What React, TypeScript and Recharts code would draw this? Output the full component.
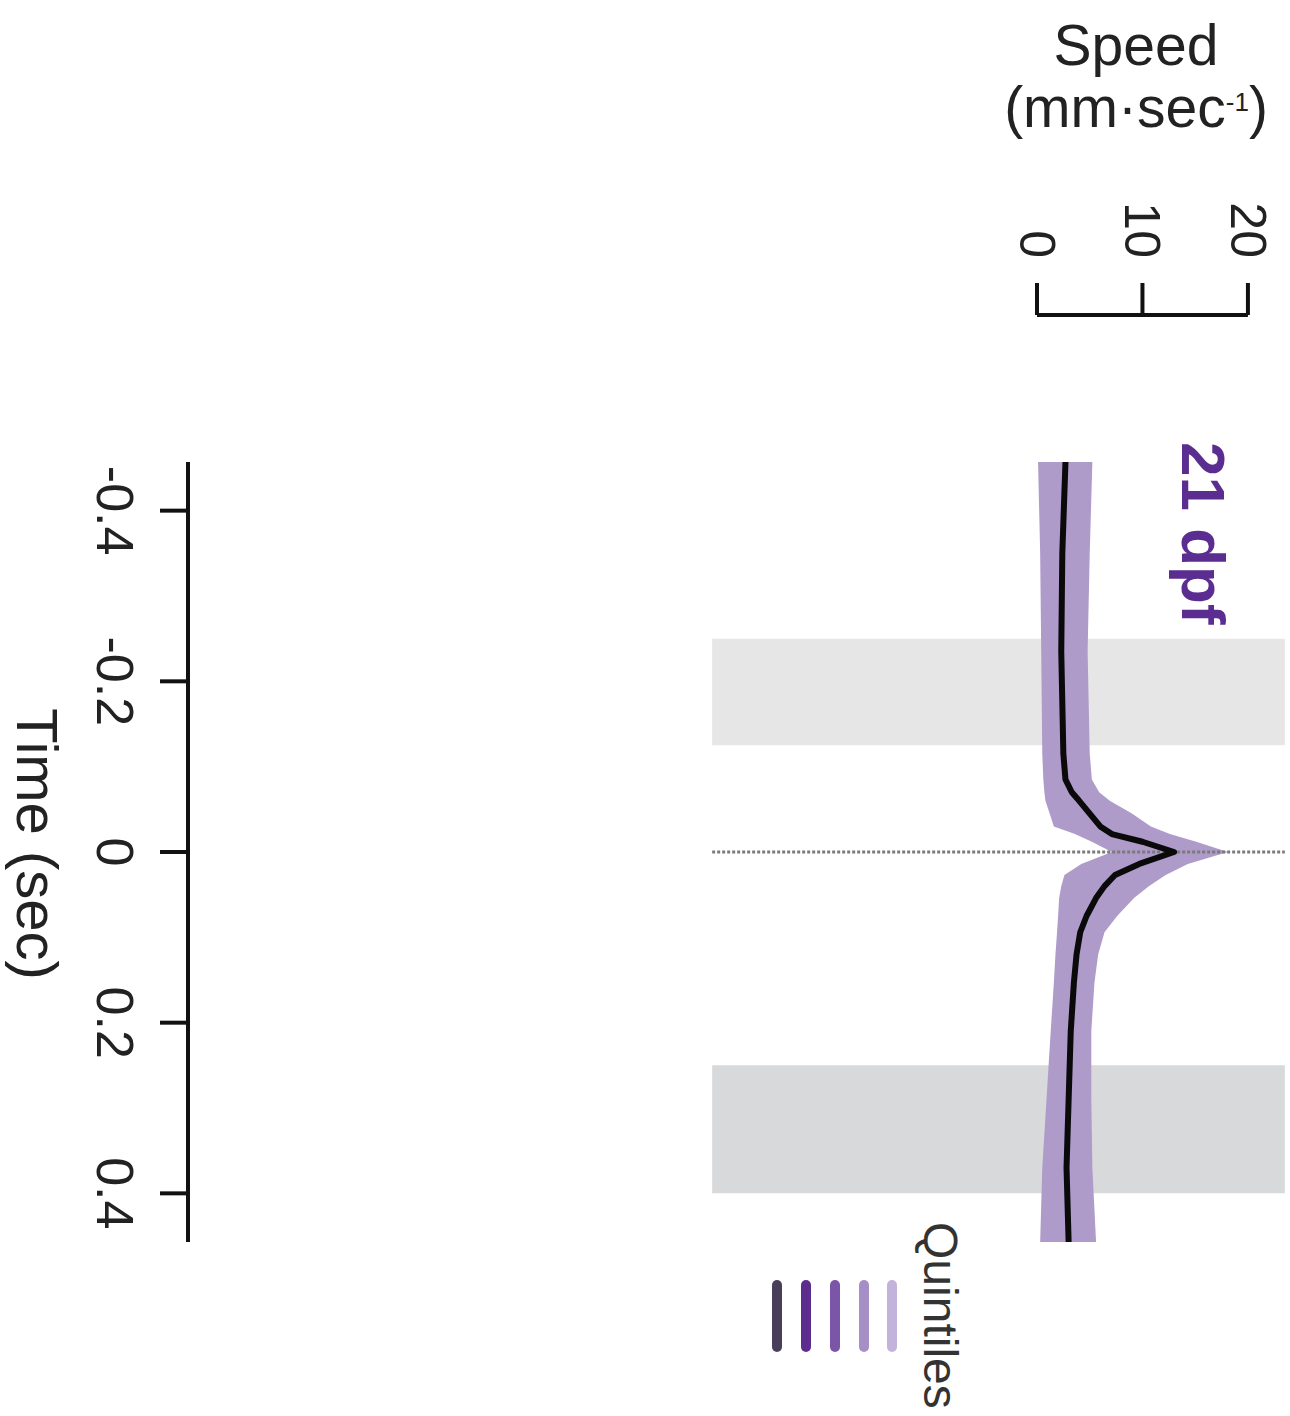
import React from 'react';
import { ComposedChart, Area, Line, XAxis, YAxis, ReferenceArea, ReferenceLine } from 'recharts';

// ---- data ----
const timeSec = [-0.457, -0.35, -0.235, -0.115, -0.085, -0.07, -0.06, -0.045, -0.03, -0.021, -0.012, 0, 0.014, 0.027, 0.04, 0.054, 0.075, 0.094, 0.12, 0.153, 0.21, 0.29, 0.37, 0.457];
const meanSpeed = [2.7, 2.4, 2.3, 2.5, 2.7, 3.3, 4.0, 5.0, 6.0, 7.1, 10.0, 13.0, 9.7, 7.4, 6.4, 5.6, 4.7, 4.1, 3.75, 3.5, 3.2, 3.0, 2.8, 3.0];
const lowerSpeed = [0.1, 0.3, 0.4, 0.5, 0.6, 0.7, 0.8, 1.2, 1.6, 3.6, 5.2, 7.1, 4.2, 2.6, 2.3, 2.1, 2.0, 1.9, 1.75, 1.6, 1.3, 0.9, 0.5, 0.3];
const upperSpeed = [5.25, 5.0, 4.8, 5.0, 5.2, 5.9, 6.9, 9.0, 10.8, 12.6, 15.1, 18.1, 14.3, 12.2, 10.6, 9.2, 7.6, 6.4, 5.8, 5.45, 5.15, 5.15, 5.25, 5.6];

const timeTicks = [-0.4, -0.2, 0, 0.2, 0.4];
const speedTicks = [0, 10, 20];
const timeDomain = [-0.457, 0.457];
const speedDomain = [-80.5, 23.8];

const stimBands = [
  { from: -0.25, to: -0.125, fill: '#e6e6e6' },
  { from: 0.25, to: 0.4, fill: '#d8d9db' },
];
const bandSpeedRange = [-30.8, 23.5];
const speedBarY = -0.6293; // time-coordinate where the speed scale bar sits

const quintileColors = ['#4a3f5a', '#5c2d8e', '#7b55a8', '#a58fc6', '#c2b2dc'];

const data = timeSec.map((t, i) => ({
  t,
  mean: meanSpeed[i],
  band: [lowerSpeed[i], upperSpeed[i]],
}));

const FONT = '"Liberation Sans", Arial, Helvetica, sans-serif';

const TimeTick = (props: any) => {
  const { x, y, payload } = props;
  return (
    <text
      x={x}
      y={y}
      transform={`rotate(90 ${x} ${y})`}
      textAnchor="middle"
      dominantBaseline="central"
      fontSize={52}
      fontFamily={FONT}
      fill="#222"
    >
      {String(payload.value)}
    </text>
  );
};

const SpeedTick = (props: any) => {
  const { x, y, payload } = props;
  return (
    <text
      x={x}
      y={y}
      transform={`rotate(90 ${x} ${y})`}
      textAnchor="end"
      dominantBaseline="central"
      fontSize={50}
      fontFamily={FONT}
      fill="#222"
    >
      {String(payload.value)}
    </text>
  );
};

export default function App() {
  const legendX = [777, 806, 835, 864, 892];
  return (
    <div style={{ position: 'absolute', left: 0, top: 0, width: 1290, height: 1416, background: '#fff' }}>
      <ComposedChart
        layout="vertical"
        width={1290}
        height={1416}
        data={data}
        margin={{ top: 205, right: 2, bottom: 174, left: 18 }}
      >
        <XAxis
          xAxisId="gap"
          orientation="top"
          type="number"
          domain={speedDomain}
          allowDataOverflow
          height={147}
          tick={false}
          axisLine={false}
          tickLine={false}
        />
        <XAxis
          xAxisId="speed"
          orientation="top"
          type="number"
          domain={speedDomain}
          allowDataOverflow
          ticks={speedTicks}
          interval={0}
          height={110}
          axisLine={false}
          tickSize={32}
          tickMargin={25}
          tickLine={{ stroke: '#111', strokeWidth: 4 }}
          tick={<SpeedTick />}
        />
        <YAxis
          yAxisId="time"
          type="number"
          dataKey="t"
          domain={timeDomain}
          allowDataOverflow
          ticks={timeTicks}
          interval={0}
          width={170}
          tickSize={28}
          tickMargin={45}
          axisLine={{ stroke: '#111', strokeWidth: 4 }}
          tickLine={{ stroke: '#111', strokeWidth: 4 }}
          tick={<TimeTick />}
        />
        {stimBands.map((b, i) => (
          <ReferenceArea
            key={i}
            xAxisId="speed"
            yAxisId="time"
            x1={bandSpeedRange[0]}
            x2={bandSpeedRange[1]}
            y1={b.from}
            y2={b.to}
            fill={b.fill}
            fillOpacity={1}
            stroke="none"
          />
        ))}
        <ReferenceLine
          xAxisId="speed"
          yAxisId="time"
          segment={[
            { x: bandSpeedRange[0], y: 0 },
            { x: bandSpeedRange[1], y: 0 },
          ]}
          stroke="#7a7a7a"
          strokeWidth={3}
          strokeDasharray="3 2"
        />
        <Area
          xAxisId="speed"
          yAxisId="time"
          dataKey="band"
          type="linear"
          stroke="none"
          fill="#ae9bca"
          fillOpacity={1}
          isAnimationActive={false}
          dot={false}
          activeDot={false}
        />
        <Line
          xAxisId="speed"
          yAxisId="time"
          dataKey="mean"
          type="linear"
          stroke="#0a0a0a"
          strokeWidth={6}
          strokeLinecap="round"
          strokeLinejoin="round"
          dot={false}
          activeDot={false}
          isAnimationActive={false}
        />
        <ReferenceLine
          xAxisId="speed"
          yAxisId="time"
          ifOverflow="visible"
          segment={[
            { x: speedTicks[0], y: speedBarY },
            { x: speedTicks[speedTicks.length - 1], y: speedBarY },
          ]}
          stroke="#111"
          strokeWidth={4}
        />
      </ComposedChart>
      <svg
        width={1290}
        height={1416}
        style={{ position: 'absolute', left: 0, top: 0, pointerEvents: 'none' }}
      >
        <text x={1136} y={65} textAnchor="middle" fontSize={57} fontFamily={FONT} fill="#222">
          Speed
        </text>
        <text x={1136} y={127} textAnchor="middle" fontSize={57} fontFamily={FONT} fill="#222">
          (mm·sec
          <tspan fontSize={26} dy={-16}>-1</tspan>
          <tspan dy={16}>)</tspan>
        </text>
        <text
          x={37}
          y={844}
          transform="rotate(90 37 844)"
          textAnchor="middle"
          dominantBaseline="central"
          fontSize={58}
          fontFamily={FONT}
          fill="#222"
        >
          Time (sec)
        </text>
        <text
          x={1182}
          y={442}
          transform="rotate(90 1182 442)"
          textAnchor="start"
          fontSize={62}
          fontWeight="bold"
          fontFamily={FONT}
          fill="#5b2d90"
        >
          21 dpf
        </text>
        <text
          x={924}
          y={1222}
          transform="rotate(90 924 1222)"
          textAnchor="start"
          fontSize={48}
          fontFamily={FONT}
          fill="#333"
        >
          Quintiles
        </text>
        {quintileColors.map((c, i) => (
          <line
            key={i}
            x1={legendX[i]}
            x2={legendX[i]}
            y1={1285}
            y2={1347}
            stroke={c}
            strokeWidth={10}
            strokeLinecap="round"
          />
        ))}
      </svg>
    </div>
  );
}
